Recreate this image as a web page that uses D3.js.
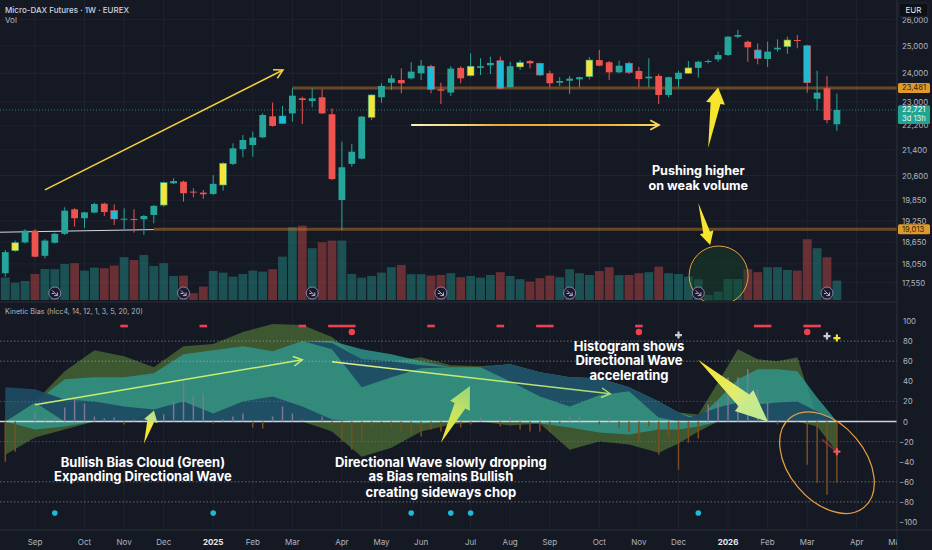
<!DOCTYPE html>
<html>
<head>
<meta charset="utf-8">
<script src="https://cdn.jsdelivr.net/npm/d3@7"></script>
<style>
  html, body { margin: 0; padding: 0; background: #151924; }
  svg { display: block; font-family: Inter, Roboto, "Noto Sans", sans-serif; }
</style>
</head>
<body>
<div id="chart"></div>
<script>
// weekly Micro-DAX bars, first week starts Mon 12 Aug 2024
const firstWeek = new Date(Date.UTC(2024, 7, 12))
const lastWeek = new Date(Date.UTC(2026, 2, 23))

const opens = [17800,18410,18640,18970,18270,18630,18880,19585,19325,19490,
  19750,19545,19295,19305,19295,19420,19710,20360,20410,20110,
  20080,20040,20310,20960,21425,21560,21810,22505,22270,22605,
  23120,23025,23155,22575,19860,20960,21125,22470,23155,23665,
  23760,23820,24000,24250,23435,23320,24195,23915,24195,24290,
  24455,23505,24230,24445,24360,24000,23665,23735,23785,23880,
  24480,24400,24035,24360,24085,23820,23905,23235,23795,24000,
  24195,24410,24505,24665,25350,25160,24850,24520,24875,24975,
  25225,25010,23105,23470,22240]
const highs = [18430,18690,19010,19010,18730,18910,19645,19615,19510,19780,
  19780,19730,19615,19585,19420,19710,20410,20515,20440,20210,
  20160,20615,21010,21615,21885,21995,22605,22970,22855,23470,
  23175,23470,23435,22775,21670,21595,22515,23260,23645,23940,
  24180,24400,24480,24310,23665,24260,24255,24730,24545,24605,
  24605,24420,24480,24480,24385,24095,23860,23905,23880,24585,
  24850,24445,24455,24420,24230,24545,23975,23880,24095,24445,
  24455,24505,24790,25375,25605,25200,25100,25160,25250,25350,
  25415,25040,24095,23905,23285]
const lows = [17710,18380,18610,18230,18200,18610,18850,19085,19040,19470,
  19390,19130,19010,18915,18850,19180,19660,20340,19810,19940,
  19890,20010,20140,20925,21170,21185,21780,22160,22250,22325,
  22250,22810,22585,20460,18990,20875,21105,22380,22970,23410,
  23295,23785,23760,23295,22925,23200,23645,23880,23940,23975,
  23435,23500,24120,24180,23905,23505,23550,23270,23505,23785,
  24255,23760,24000,23975,23505,23505,22925,23155,23505,23975,
  23845,24360,24420,24630,25290,24420,24325,24230,24790,24705,
  24915,23315,22705,22270,22025]
const closes = [18370,18630,18970,18245,18690,18880,19545,19325,19495,19740,
  19505,19305,19312,19275,19390,19685,20380,20430,20060,20080,
  20030,20345,20980,21455,21723,21800,22550,22185,22515,23210,
  23060,23120,22605,20490,20855,21345,22495,23235,23550,23820,
  23645,24060,24275,23435,23385,24170,23820,24255,24255,24375,
  23470,24255,24385,24360,23940,23645,23725,23810,23860,24480,
  24275,24035,24275,24035,23795,23880,23235,23860,24020,24195,
  24420,24445,24665,25350,25415,24950,24545,24790,24935,25225,
  25185,23665,23315,22380,22721]
const yellowBars = [1,16,22,37,47,52,59,69,79]
const cyanBars = [11,28,43,50,54,63,76,81]

// volume, thousand contracts
const volumes = [112,87,95,130,155,154,180,184,147,162,
  159,172,214,200,225,170,184,120,122,34,
  67,145,137,117,130,147,142,154,217,364,
  372,259,289,297,297,130,112,120,137,164,
  175,129,129,122,125,134,114,120,112,125,
  139,120,104,92,109,122,114,154,134,125,
  145,164,124,125,134,139,167,134,130,117,
  104,25,42,105,105,154,139,164,164,150,
  147,304,259,214,97]
const rollWeeks = [5,18,31,44,57,70,83]

const levels = [23481, 19013]
const levelFrom = [29, 15]
const lastPrice = 22721

// Kinetic Bias indicator
const hist = [-40,-30,0,9,3,4,14,24,18,5,
  3,4,-3,2,1,3,7,20,40,26,
  28,-2,2,5,8,-6,-7,5,15,8,
  2,0,5,-3,-20,-28,-20,-6,-2,-6,
  -10,-13,-15,-8,-10,-6,-6,-3,4,0,
  -5,4,-8,-10,-10,-10,-2,5,5,0,
  -3,4,-6,-10,-20,-5,-33,-16,-48,-21,
  -17,17,19,44,44,52,32,19,-3,0,
  1,-43,-61,-73,-61]
const bandIdx = [0,3,6,9,12,15,18,21,24,27,30,33,36,39,42,45,48,51,54,57,60,63,66,68,70,72,74,76,78,80,82,84]
const biasTop = [20,20,50,71,65,54,75,77,89,97,96,84,60,60,64,56,55,57,49,44,43,34,20,9,7,39,72,62,60,64,4,0]
const biasBot = [-33,-16,-8,0,0,0,0,0,0,0,0,-10,-35,-26,-10,-3,0,-4,-2,-28,-20,-23,-31,-22,-10,0,0,0,0,0,-5,-30]
const waveTop = [0,19,42,44,44,48,67,71,75,70,80,80,72,67,60,54,54,57,49,44,43,34,20,9,3,22,42,52,52,50,24,0]
const waveBot = [0,-8,-5,0,0,10,0,0,0,0,0,0,0,0,-2,0,0,0,-2,-6,-11,-13,-8,-8,-5,0,0,0,0,0,0,0]
const lowWaveTop = [34,32,22,20,15,12,20,8,20,25,15,2,0,0,0,0,0,0,0,0,0,0,0,0,7,14,19,17,19,20,10,0]
const lowWaveBot = [0,19,0,0,0,0,0,0,0,0,0,0,0,0,0,0,0,0,0,0,0,0,0,0,0,0,0,0,0,0,0,0]
const upWaveTop = [80,80,80,80,80,80,80,80,80,80,80,78,62,60,56,54,54,57,49,44,43,34,20,9,0,0,0,0,0,0,0,0]
const upWaveBot = [80,80,80,80,80,80,80,80,80,80,80,72,34,44,53,54,54,40,25,15,26,30,4,0,0,0,0,0,0,0,0,0]
const sellDash = [12,20,30,33,34,35,43,50,54,55,64,76,77,81,82]
const sellDot = [35,64,81]
const cyanDot = [5,21,41,45,47,70]

const priceTicks = [26000,25000,24000,23000,22200,21400,20600,19850,19250,18650,18050,17550]
const kbTicks = [100,80,60,40,20,0,-20,-40,-60,-80,-100]
const monthLabels = ['Sep','Oct','Nov','Dec','2025','Feb','Mar','Apr','May','Jun','Jul','Aug',
  'Sep','Oct','Nov','Dec','2026','Feb','Mar','Apr','May']

const width = 932
const height = 550
const axisX = 897

const svg = d3.select('#chart').append('svg')
  .attr('width', width)
  .attr('height', height)

svg.append('rect').attr('width', width).attr('height', height).attr('fill', '#151924')

const defs = svg.append('defs')
defs.append('clipPath').attr('id', 'clipPrice')
  .append('rect').attr('x', 0).attr('y', 0).attr('width', axisX).attr('height', 301)
defs.append('clipPath').attr('id', 'clipKb')
  .append('rect').attr('x', 0).attr('y', 303).attr('width', axisX).attr('height', 227)
defs.append('clipPath').attr('id', 'clipAxis')
  .append('rect').attr('x', 0).attr('y', 530).attr('width', axisX).attr('height', 20)

// scales
const x = d3.scaleUtc().domain([firstWeek, lastWeek]).range([5.3, 836.9])
const weekMs = 7 * 864e5
const xAt = i => x(new Date(+firstWeek + i * weekMs))
const y = d3.scaleLog().domain([25000, 17550]).range([46, 282.7])
const yv = d3.scaleLinear().domain([0, 400]).range([300, 220])
const yk = d3.scaleLinear().domain([100, -100]).range([321, 522])

const months = d3.utcMonth.range(new Date(Date.UTC(2024, 8, 1)), new Date(Date.UTC(2026, 5, 1)))
const monthTicks = months.map(m => d3.utcMonday.ceil(m))

const gridColor = '#1f2330'

// ---------- price pane ----------
const pp = svg.append('g').attr('clip-path', 'url(#clipPrice)')

pp.selectAll('.vgrid').data(monthTicks).enter().append('line')
  .attr('x1', d => x(d)).attr('x2', d => x(d))
  .attr('y1', 0).attr('y2', 301)
  .attr('stroke', gridColor)
pp.selectAll('.hgrid').data(priceTicks).enter().append('line')
  .attr('x1', 0).attr('x2', axisX)
  .attr('y1', d => y(d)).attr('y2', d => y(d))
  .attr('stroke', gridColor)

// volume
const isUp = i => closes[i] >= opens[i]
pp.selectAll('.vol').data(volumes).enter().append('rect')
  .attr('x', (d, i) => xAt(i) - 4.4)
  .attr('width', 8.8)
  .attr('y', d => yv(d))
  .attr('height', d => yv(0) - yv(d))
  .attr('fill', (d, i) => isUp(i) ? 'rgba(38,166,154,0.4)' : 'rgba(239,83,80,0.38)')

// volume highlight circle
pp.append('circle')
  .attr('cx', xAt(72.05)).attr('cy', y(17740)).attr('r', 29.5)
  .attr('fill', 'rgba(22,70,42,0.45)')
  .attr('stroke', '#e8a13a').attr('stroke-width', 1)

// roll markers
const roll = pp.selectAll('.roll').data(rollWeeks).enter().append('g')
  .attr('transform', d => `translate(${xAt(d)},293)`)
roll.append('circle').attr('r', 6).attr('fill', '#1b1a2c').attr('stroke', '#8a7db0').attr('stroke-width', 1)
roll.append('path').attr('d', 'M-2.6,-2.6L2.4,2.4M2.6,-0.6L2.6,2.6L-0.6,2.6M-3,0.5L-0.5,0.5')
  .attr('fill', 'none').attr('stroke', '#c9c2e0').attr('stroke-width', 0.9)

// levels
pp.append('line')
  .attr('x1', xAt(-0.6)).attr('y1', y(18925))
  .attr('x2', xAt(15)).attr('y2', y(19000))
  .attr('stroke', '#d8d8dc').attr('stroke-width', 1)
pp.selectAll('.level').data(levels).enter().append('line')
  .attr('x1', (d, k) => xAt(levelFrom[k])).attr('x2', axisX)
  .attr('y1', d => y(d)).attr('y2', d => y(d))
  .attr('stroke', 'rgba(190,120,40,0.5)').attr('stroke-width', 3)
pp.append('line')
  .attr('x1', 0).attr('x2', axisX)
  .attr('y1', y(lastPrice)).attr('y2', y(lastPrice))
  .attr('stroke', 'rgba(38,166,154,0.7)').attr('stroke-dasharray', '1,2')

// candles
const baseColor = i => isUp(i) ? '#26a69a' : '#ef5350'
const bodyColor = i => yellowBars.includes(i) ? '#f5e43a' : cyanBars.includes(i) ? '#1cbcd8' : baseColor(i)
const candle = pp.selectAll('.candle').data(closes).enter().append('g')
candle.append('line')
  .attr('x1', (d, i) => xAt(i)).attr('x2', (d, i) => xAt(i))
  .attr('y1', (d, i) => y(highs[i])).attr('y2', (d, i) => y(lows[i]))
  .attr('stroke', (d, i) => baseColor(i)).attr('stroke-width', 1)
candle.append('rect')
  .attr('x', (d, i) => xAt(i) - 3.4)
  .attr('width', 6.8)
  .attr('y', (d, i) => Math.min(y(opens[i]), y(d)))
  .attr('height', (d, i) => Math.max(1, Math.abs(y(opens[i]) - y(d))))
  .attr('fill', (d, i) => bodyColor(i))
  .attr('stroke', (d, i) => (yellowBars.includes(i) || cyanBars.includes(i)) ? baseColor(i) : 'none')
  .attr('stroke-width', 0.6)

// annotations helpers
function lineArrow (g, p0, p1, stroke, w) {
  g.append('line').attr('x1', p0[0]).attr('y1', p0[1]).attr('x2', p1[0]).attr('y2', p1[1])
    .attr('stroke', stroke).attr('stroke-width', w)
  const a = Math.atan2(p0[1] - p1[1], p0[0] - p1[0])
  const legs = [a + 0.5, a - 0.5].map(b => [p1[0] + 10 * Math.cos(b), p1[1] + 10 * Math.sin(b)])
  g.append('path').attr('d', d3.line()([legs[0], p1, legs[1]]))
    .attr('fill', 'none').attr('stroke', stroke).attr('stroke-width', w)
}
function gradient (id, p0, p1, stops) {
  const lg = defs.append('linearGradient').attr('id', id).attr('gradientUnits', 'userSpaceOnUse')
    .attr('x1', p0[0]).attr('y1', p0[1]).attr('x2', p1[0]).attr('y2', p1[1])
  stops.forEach(s => lg.append('stop').attr('offset', s[0]).attr('stop-color', s[1]))
  return `url(#${id})`
}
function fatArrow (g, p0, p1, headLen, hw, sw, fill) {
  const dx = p1[0] - p0[0]
  const dy = p1[1] - p0[1]
  const L = Math.hypot(dx, dy)
  const ux = dx / L
  const uy = dy / L
  const nx = -uy
  const ny = ux
  const bx = p1[0] - ux * headLen
  const by = p1[1] - uy * headLen
  const pts = [p0, [bx + nx * sw, by + ny * sw], [bx + nx * hw, by + ny * hw], p1,
    [bx - nx * hw, by - ny * hw], [bx - nx * sw, by - ny * sw]]
  g.append('path').attr('d', d3.line()(pts) + 'Z').attr('fill', fill)
}
const P = (i, p) => [xAt(i), y(p)]
const K = (i, v) => [xAt(i), yk(v)]

lineArrow(pp, P(4, 20160), P(28.05, 24120), '#f7d23a', 1.5)
lineArrow(pp, P(41, 22215), P(66.03, 22215),
  gradient('gH', P(41, 22215), P(66.03, 22215), [[0, '#fbf0c4'], [0.2, '#f5d77a'], [0.35, '#eaa83a'], [0.8, '#f0b43a'], [1, '#f7dc5a']]), 1.8)
fatArrow(pp, P(71, 21465), P(72, 23500), 16, 9.5, 5, '#f7e52d')
fatArrow(pp, P(70, 19770), P(71.2, 18570), 13, 7, 3.5, '#f7e52d')

// ---------- indicator pane ----------
const kp = svg.append('g').attr('clip-path', 'url(#clipKb)')
kp.selectAll('.vgrid').data(monthTicks).enter().append('line')
  .attr('x1', d => x(d)).attr('x2', d => x(d))
  .attr('y1', 303).attr('y2', 530)
  .attr('stroke', gridColor)

function band (top, bot, fill) {
  const area = d3.area()
    .x((d, k) => xAt(bandIdx[k]))
    .y0((d, k) => yk(bot[k]))
    .y1((d, k) => yk(top[k]))
  kp.append('path').datum(top).attr('d', area).attr('fill', fill)
}
band(biasTop, biasBot, 'rgba(88,128,58,0.6)')
band(waveTop, waveBot, 'rgba(48,150,140,0.82)')
band(lowWaveTop, lowWaveBot, 'rgba(29,74,98,0.93)')
band(upWaveTop, upWaveBot, 'rgba(29,74,98,0.93)')

// level lines
const dotted = [[80, 'rgba(200,202,212,0.45)'], [60, 'rgba(200,202,212,0.45)'], [20, 'rgba(140,100,190,0.55)'],
  [-20, 'rgba(140,100,190,0.55)'], [-60, 'rgba(200,202,212,0.45)'], [-80, 'rgba(200,202,212,0.45)']]
kp.selectAll('.klev').data(dotted).enter().append('line')
  .attr('x1', 0).attr('x2', axisX)
  .attr('y1', d => yk(d[0])).attr('y2', d => yk(d[0]))
  .attr('stroke', d => d[1]).attr('stroke-dasharray', '1.5,2')
kp.append('line').attr('x1', 0).attr('x2', axisX)
  .attr('y1', yk(0)).attr('y2', yk(0))
  .attr('stroke', '#d1d4dc').attr('stroke-width', 1.4)

// histogram
kp.selectAll('.hist').data(hist).enter().append('line')
  .attr('x1', (d, i) => xAt(i)).attr('x2', (d, i) => xAt(i))
  .attr('y1', yk(0)).attr('y2', d => yk(d))
  .attr('stroke', d => d >= 0 ? '#7f7696' : '#7c4d1f')
  .attr('stroke-width', 1.5)

// signal markers
const runs = []
sellDash.forEach(w => {
  const r = runs[runs.length - 1]
  if (r && w === r[1] + 1) r[1] = w
  else runs.push([w, w])
})
kp.selectAll('.sdash').data(runs).enter().append('rect')
  .attr('x', d => xAt(d[0]) - 3.8)
  .attr('width', d => xAt(d[1]) - xAt(d[0]) + 7.6)
  .attr('y', yk(95) - 1.3).attr('height', 2.6)
  .attr('fill', '#f04050')
kp.selectAll('.sdot').data(sellDot).enter().append('circle')
  .attr('cx', d => xAt(d)).attr('cy', yk(89)).attr('r', 3.2).attr('fill', '#f04050')
kp.selectAll('.cdot').data(cyanDot).enter().append('circle')
  .attr('cx', d => xAt(d)).attr('cy', yk(-91)).attr('r', 2.8).attr('fill', '#1fbad6')
function cross (i, v, color) {
  const c = K(i, v)
  kp.append('path').attr('d', `M${c[0] - 3.5},${c[1]}H${c[0] + 3.5}M${c[0]},${c[1] - 3.5}V${c[1] + 3.5}`)
    .attr('stroke', color).attr('stroke-width', 2.2)
}
cross(68, 86, '#c9ccd4')
cross(83, 85, '#c9ccd4')
cross(84, 83, '#f7e52d')
kp.append('line').attr('x1', xAt(82.5)).attr('y1', yk(-18)).attr('x2', xAt(84)).attr('y2', yk(-30))
  .attr('stroke', 'rgba(180,60,60,0.6)').attr('stroke-width', 2)
cross(84, -30, '#f25a5a')

// annotations, indicator pane
lineArrow(kp, K(3, 16.6), K(30, 61.4), '#c9ec72', 1.5)
lineArrow(kp, K(33, 59.4), K(61.1, 27.6),
  gradient('gD', K(33, 59.4), K(61.1, 27.6), [[0, '#e2f08a'], [1, '#a8dd6e']]), 1.5)
fatArrow(kp, K(14, -22.1), K(15.02, 10.9), 11, 7, 3.5,
  gradient('gA', K(14, -22.1), K(15.02, 10.9), [[0, '#f8e224'], [0.6, '#f3e640'], [0.72, '#c0e48a'], [1, '#b5e080']]))
fatArrow(kp, K(44, -21.2), K(46.94, 35.2), 22, 11, 6,
  gradient('gB', K(44, -21.2), K(46.94, 35.2), [[0, '#f8e224'], [0.5, '#c8e462'], [1, '#96d57a']]))
fatArrow(kp, K(69.97, 61.4), K(77.04, -0.3), 32, 14, 8,
  gradient('gC', K(69.97, 61.4), K(77.04, -0.3), [[0, '#f8e224'], [0.5, '#e4ec6a'], [0.7, '#c8ea8e'], [1, '#bfe88c']]))
const ec = K(83, -41)
kp.append('ellipse').attr('cx', 0).attr('cy', 0).attr('rx', 58).attr('ry', 38)
  .attr('transform', `translate(${ec[0]},${ec[1]}) rotate(50)`)
  .attr('fill', 'none').attr('stroke', '#e8a13a').attr('stroke-width', 1.2)

// annotation text
function note (g, lines, i, vals, scale, size) {
  g.selectAll(null).data(lines).enter().append('text')
    .attr('x', xAt(i)).attr('y', (d, k) => scale(vals[k]))
    .attr('text-anchor', 'middle').attr('dominant-baseline', 'central')
    .attr('fill', '#ffffff').attr('font-size', size).attr('font-weight', 700)
    .text(d => d)
}
note(svg, ['Pushing higher', 'on weak volume'], 70, [20760, 20290], y, 12.6)
note(svg, ['Bullish Bias Cloud (Green)', 'Expanding Directional Wave'], 13.9, [-40.5, -54.7], yk, 13)
note(svg, ['Directional Wave slowly dropping', 'as Bias remains Bullish', 'creating sideways chop'], 44, [-40.5, -54.7, -69.7], yk, 13)
note(svg, ['Histogram shows', 'Directional Wave', 'accelerating'], 63, [75.6, 61.4, 46.5], yk, 13)

// ---------- separators, axes ----------
svg.append('line').attr('x1', 0).attr('x2', axisX).attr('y1', 302).attr('y2', 302).attr('stroke', '#2a2e39')
svg.append('rect').attr('x', axisX).attr('y', 0).attr('width', width - axisX).attr('height', height).attr('fill', '#151924')
svg.append('line').attr('x1', axisX).attr('x2', axisX).attr('y1', 0).attr('y2', height).attr('stroke', '#2a2e39')
svg.append('line').attr('x1', 0).attr('x2', width).attr('y1', 530).attr('y2', 530).attr('stroke', '#2a2e39')

svg.selectAll('.ptick').data(priceTicks).enter().append('text')
  .attr('x', 902).attr('y', d => y(d))
  .attr('dominant-baseline', 'central')
  .attr('fill', '#b2b5be').attr('font-size', 7.8)
  .text(d => d3.format(',')(d))
svg.selectAll('.ktick').data(kbTicks).enter().append('text')
  .attr('x', d => d < 0 ? 899 : 903).attr('y', d => yk(d))
  .attr('dominant-baseline', 'central')
  .attr('fill', '#b2b5be').attr('font-size', 7.8)
  .text(d => d < 0 ? '\u2212' + Math.abs(d) : d)

// axis price labels
svg.selectAll('.lvlbox').data(levels).enter().append('rect')
  .attr('x', axisX + 1).attr('width', 32).attr('y', d => y(d) - 5).attr('height', 10)
  .attr('rx', 1.5).attr('fill', '#e09a2c')
svg.selectAll('.lvltxt').data(levels).enter().append('text')
  .attr('x', 902).attr('y', d => y(d)).attr('dominant-baseline', 'central')
  .attr('fill', '#2a1e0c').attr('font-size', 7.6)
  .text(d => d3.format(',')(d))
svg.append('rect').attr('x', axisX + 1).attr('width', 32)
  .attr('y', y(lastPrice) - 4.6).attr('height', 18.6).attr('rx', 1.5).attr('fill', '#22a493')
svg.append('text').attr('x', 902).attr('y', y(lastPrice)).attr('dominant-baseline', 'central')
  .attr('fill', '#ffffff').attr('font-size', 7.6).text(d3.format(',')(lastPrice))
svg.append('text').attr('x', 902).attr('y', y(lastPrice) + 8.6).attr('dominant-baseline', 'central')
  .attr('fill', '#e6f4f2').attr('font-size', 7.6).text('3d 13h')

svg.append('rect').attr('x', 899).attr('y', 3).attr('width', 29).attr('height', 14).attr('rx', 2)
  .attr('fill', '#0d1017').attr('stroke', '#242833')
svg.append('text').attr('x', 913.5).attr('y', 10).attr('text-anchor', 'middle').attr('dominant-baseline', 'central')
  .attr('fill', '#e8e9ec').attr('font-size', 8).text('EUR')

// time axis
const xa = svg.append('g').attr('clip-path', 'url(#clipAxis)')
xa.selectAll('text').data(monthTicks).enter().append('text')
  .attr('x', d => x(d)).attr('y', 542)
  .attr('text-anchor', 'middle').attr('dominant-baseline', 'central')
  .attr('font-size', 8)
  .attr('font-weight', (d, k) => /^\d+$/.test(monthLabels[k]) ? 700 : 400)
  .attr('fill', (d, k) => /^\d+$/.test(monthLabels[k]) ? '#e8e9ec' : '#b2b5be')
  .text((d, k) => monthLabels[k])

// titles
svg.append('text').attr('x', 5).attr('y', 9.5).attr('dominant-baseline', 'central')
  .attr('fill', '#d1d4dc').attr('font-size', 8).attr('font-weight', 500)
  .text('Micro-DAX Futures \u00b7 1W \u00b7 EUREX')
svg.append('text').attr('x', 5).attr('y', 20).attr('dominant-baseline', 'central')
  .attr('fill', '#b2b5be').attr('font-size', 8).text('Vol')
svg.append('text').attr('x', 5).attr('y', 311).attr('dominant-baseline', 'central')
  .attr('fill', '#b2b5be').attr('font-size', 7.2)
  .text('Kinetic Bias (hlcc4, 14, 12, 1, 3, 5, 20, 20)')
</script>
</body>
</html>
